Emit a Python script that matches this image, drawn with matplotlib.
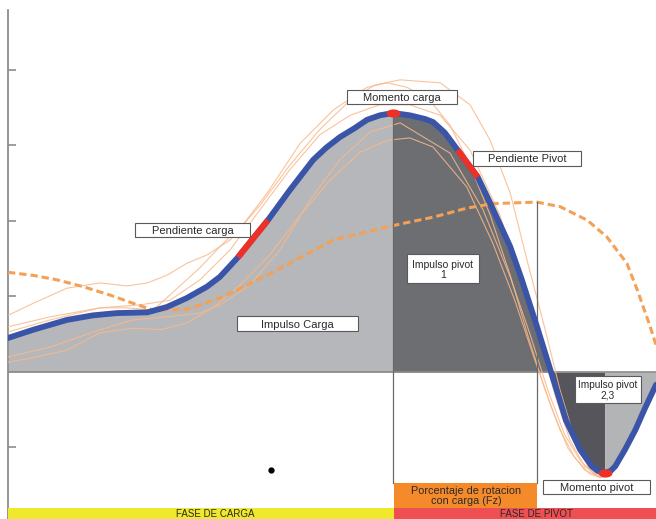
import matplotlib
matplotlib.use('Agg')
import matplotlib.pyplot as plt
import numpy as np
from matplotlib.patches import Rectangle
from matplotlib.path import Path
from matplotlib.markers import MarkerStyle
import matplotlib.transforms as mtransforms

plt.rcParams['font.family'] = ['Liberation Sans', 'DejaVu Sans']

# ---------------- data (x: % of cycle, y: moment units) ----------------
ciclo = [0.0, 3.9, 9.1, 13.1, 16.8, 21.5, 24.5, 27.6, 30.7, 32.7, 35.5, 40.1,
         43.5, 47.1, 49.1, 51.2, 53.5, 55.4, 57.4, 59.4, 62.0, 64.4, 65.6, 67.4,
         69.4, 72.5, 74.4, 77.5, 79.3, 81.6, 83.8, 86.1, 88.3, 90.1, 91.0, 92.1,
         93.0, 93.7, 95.2, 96.8, 98.3, 100.0]
momento = [0.45, 0.56, 0.69, 0.75, 0.78, 0.79, 0.86, 0.98, 1.13, 1.26, 1.52, 2.01,
           2.41, 2.81, 2.97, 3.11, 3.23, 3.34, 3.40, 3.43, 3.40, 3.35, 3.31, 3.17,
           2.94, 2.58, 2.24, 1.66, 1.22, 0.61, 0.00, -0.64, -1.03, -1.25, -1.31, -1.34,
           -1.31, -1.25, -1.03, -0.77, -0.48, -0.17]

# dashed orange curve (rotation percentage with load)
ciclo_rot = [0.0, 3.9, 7.6, 11.6, 15.7, 19.3, 22.4, 27.6, 32.7, 37.8, 41.5, 50.2,
             60.5, 65.6, 70.8, 74.8, 81.6, 85.2, 89.4, 92.4, 95.5, 97.1, 99.1, 100.0]
rotacion = [1.32, 1.28, 1.22, 1.13, 1.02, 0.91, 0.82, 0.83, 0.98, 1.19, 1.35, 1.75,
            1.96, 2.05, 2.17, 2.23, 2.25, 2.19, 2.01, 1.79, 1.44, 1.09, 0.60, 0.36]

# individual trials (thin orange lines)
t1_x = [0.0, 3.9, 9.1, 14.2, 18.4, 21.5, 24.5, 27.6, 30.7, 34.3, 38.9, 43.5, 48.1,
        52.8, 56.6, 60.5, 66.7, 71.3, 74.4, 77.5, 80.1, 82.9, 85.2, 87.5, 89.8, 91.4, 92.9]
t1_y = [0.75, 0.91, 1.11, 1.18, 1.14, 1.18, 1.28, 1.44, 1.55, 1.75, 2.21, 2.74, 3.21,
        3.60, 3.80, 3.87, 3.83, 3.54, 3.07, 2.37, 1.48, 0.56, -0.24, -0.90, -1.30, -1.40, -1.36]
t2_x = [0.0, 6.5, 14.2, 18.4, 22.4, 25.5, 29.6, 32.7, 36.6, 40.0, 45.1, 50.2, 55.4,
        58.5, 61.6, 65.1, 68.2, 71.3, 74.4, 77.5, 80.2, 82.9, 85.2, 87.5, 89.8, 91.4]
t2_y = [0.60, 0.73, 0.85, 0.85, 0.82, 1.06, 1.38, 1.66, 1.99, 2.37, 3.03, 3.47, 3.77,
        3.83, 3.77, 3.60, 3.27, 2.74, 2.08, 1.28, 0.49, -0.24, -0.77, -1.14, -1.35, -1.40]
t3_x = [0.0, 6.5, 14.2, 19.3, 24.5, 29.6, 32.7, 37.3, 42.0, 46.6, 51.2, 55.9, 60.5,
        68.2, 73.3, 77.5, 80.6, 83.3, 85.9, 88.3, 90.6]
t3_y = [0.20, 0.33, 0.56, 0.69, 0.73, 0.78, 0.89, 1.15, 1.62, 2.28, 2.81, 3.18, 3.30,
        2.90, 2.15, 1.26, 0.49, -0.24, -0.83, -1.17, -1.36]
t4_x = [0.0, 3.9, 9.1, 14.2, 19.3, 23.5, 27.6, 31.6, 35.8, 40.4, 45.1, 49.7, 54.3,
        58.6, 62.0, 65.6, 70.8, 74.8, 78.2, 81.3, 84.0, 86.4, 89.0, 91.1]
t4_y = [0.13, 0.19, 0.29, 0.52, 0.58, 0.56, 0.65, 0.85, 1.15, 1.55, 2.08, 2.54, 2.91,
        3.07, 3.10, 2.98, 2.45, 1.71, 0.95, 0.16, -0.50, -1.01, -1.30, -1.38]
t5_x = [0.0, 6.5, 14.2, 20.4, 25.0, 29.6, 34.3, 38.9, 43.5, 48.1, 52.8, 57.4, 62.0,
        66.7, 71.3, 75.9, 79.0, 82.1, 84.4, 86.7, 89.0, 91.4]
t5_y = [0.53, 0.69, 0.85, 0.89, 0.95, 1.22, 1.62, 2.15, 2.68, 3.14, 3.40, 3.54, 3.54,
        3.40, 2.94, 2.08, 1.28, 0.42, -0.30, -0.90, -1.25, -1.39]

# slope segments (index ranges on the main curve)
pend_carga = (10, 11)
pend_pivot = (24, 25)

y_ticks = [-1, 1, 2, 3, 4]

# ---------------- figure ----------------
W, H = 656, 519
fig = plt.figure(figsize=(W / 100, H / 100), dpi=100)
ax = fig.add_axes([8 / W, 0, 648 / W, 1])
ax.set_xlim(0, 100)
ax.set_ylim(-1.947, 4.927)

x = np.array(ciclo)
y = np.array(momento)
i_pk = int(np.argmax(y))
i_mn = int(np.argmin(y))
x_pk, y_pk = x[i_pk], y[i_pk]
x_mn, y_mn = x[i_mn], y[i_mn]
x_cross = x[np.where(y == 0.0)[0][0]]

ax.fill_between(x, y, 0, where=x <= x_pk, color='#b6b7ba', lw=0, zorder=1)
ax.fill_between(x, y, 0, where=(x >= x_pk) & (x <= x_cross), color='#6d6e72', lw=0, zorder=1)
ax.fill_between(x, y, 0, where=(x >= x_cross) & (x <= x_mn), color='#55555b', lw=0, zorder=1)
ax.fill_between(x, y, 0, where=x >= x_mn, color='#b3b4b6', lw=0, zorder=1)

# zero line
ax.axhline(0, color='#8a8a8a', lw=1.2, zorder=2)

# thin trial lines
for tx, ty in [(t1_x, t1_y), (t2_x, t2_y), (t3_x, t3_y), (t4_x, t4_y), (t5_x, t5_y)]:
    ax.plot(tx, ty, color='#f9b98a', lw=0.8, alpha=0.85, zorder=3,
            solid_joinstyle='round')

# dashed rotation curve
ax.plot(ciclo_rot, rotacion, color='#f4a055', lw=2.2, dashes=(2.4, 1.3), zorder=4)

# vertical separators
xr = np.array(ciclo_rot)
yr = np.array(rotacion)
i_rpk = int(np.argmax(yr))
y_box_top = (372 - 483) / 75.5
ax.plot([x_pk, x_pk], [y_pk, y_box_top], color='#6a6a6a', lw=0.9, zorder=4)
ax.plot([xr[i_rpk], xr[i_rpk]], [yr[i_rpk], y_box_top], color='#6a6a6a', lw=0.9, zorder=4)

# main curve
ax.plot(x, y, color='#3a55a8', lw=4.2, solid_capstyle='round', solid_joinstyle='round', zorder=5)
for a, b in [pend_carga, pend_pivot]:
    ax.plot(x[a:b + 1], y[a:b + 1], color='#ee3127', lw=4.4, solid_capstyle='butt', zorder=6)

ell = Path.unit_circle().transformed(mtransforms.Affine2D().scale(1.7, 1.0))
ax.plot([x_pk], [y_pk], marker=MarkerStyle(ell), ms=10, color='#ee3127', mec='none', zorder=7)
ax.plot([x_mn], [y_mn], marker=MarkerStyle(ell), ms=10, color='#ee3127', mec='none', zorder=7)

# black dot
ax.plot([40.6], [-1.30], 'o', color='black', ms=3.5, zorder=7)

# axes styling
for s in ['top', 'right', 'bottom']:
    ax.spines[s].set_visible(False)
ax.spines['left'].set_color('#8c8c8c')
ax.spines['left'].set_linewidth(1.3)
ax.spines['left'].set_bounds(-1.947, 4.79)
ax.set_yticks(y_ticks)
ax.set_xticks([])
ax.tick_params(axis='y', direction='in', length=6, width=1.2, color='#8c8c8c', labelleft=False)
ax.set_facecolor('none')


# ---------------- annotations (figure pixel layout) ----------------
def fbox(x0, y0, x1, y1, fc='white', ec='#5a5a5a', lw=0.8, z=10):
    r = Rectangle((x0 / W, 1 - y1 / H), (x1 - x0) / W, (y1 - y0) / H,
                  transform=fig.transFigure, facecolor=fc, edgecolor=ec, lw=lw, zorder=z)
    fig.add_artist(r)


def ftext(cx, cy, s, size=8, va='center', z=11, color='#2a2a2a'):
    fig.text(cx / W, 1 - cy / H, s, ha='center', va=va, fontsize=size, color=color,
             zorder=z, linespacing=1.0)


labels = [
    (347, 90, 457, 104, 'Momento carga', 8),
    (473, 151, 581, 166, 'Pendiente Pivot', 8),
    (135, 223, 250, 237, 'Pendiente carga', 8),
    (237, 316, 358, 331, 'Impulso Carga', 8),
    (407, 254, 479, 283, 'Impulso pivot\n1', 7.5),
    (575, 376, 641, 403, 'Impulso pivot\n2,3', 7.3),
    (543, 480, 650, 494, 'Momento pivot', 8),
]
for x0, y0, x1, y1, s, fs in labels:
    fbox(x0, y0, x1, y1)
    ftext((x0 + x1) / 2, (y0 + y1) / 2 + 1.0, s, size=fs)

# orange box
fbox(394, 483, 537, 508, fc='#f58a2b', ec='none', lw=0)
ftext(466, 496, 'Porcentaje de rotacion\ncon carga (Fz)', size=7.8)

# bottom phase bars
fbox(8, 508, 394, 519, fc='#efe82c', ec='none', lw=0)
fbox(394, 508, 656, 519, fc='#ee4f52', ec='none', lw=0)
ftext(215, 513.8, 'FASE DE CARGA', va='center', size=7)
ftext(536, 513.8, 'FASE DE PIVOT', va='center', size=7)

fig.savefig('out.png', dpi=100)
